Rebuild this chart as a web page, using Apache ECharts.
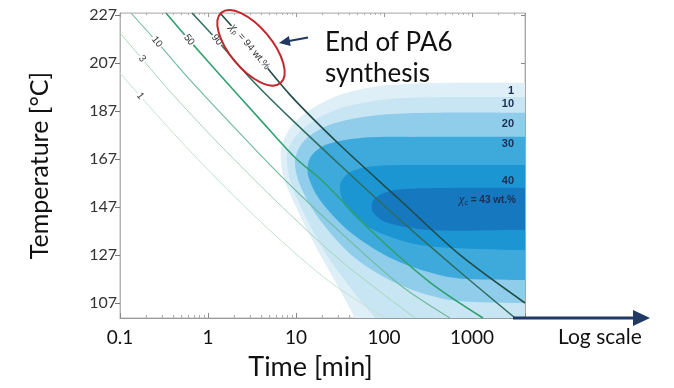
<!DOCTYPE html>
<html>
<head>
<meta charset="utf-8">
<script src="https://cdn.jsdelivr.net/npm/echarts@6/dist/echarts.min.js"></script>
<style>
  html, body { margin: 0; padding: 0; background: #fff; }
  #chart { width: 674px; height: 388px; }
</style>
</head>
<body>
<div id="chart"></div>
<script>
// Axis ticks
const timeTicks = [0.1, 1, 10, 100, 1000];
const tempTicks = [107, 127, 147, 167, 187, 207, 227];

// Polymerisation conversion isolines X_p (wt.%): time [min] vs temperature [°C]
const xp1Time = [0.1, 0.169, 0.422, 1.37, 5.77, 24.3, 103];
const xp1Temp = [202.8, 193.25, 177, 157.4, 135.3, 115.75, 100.75];
const xp3Time = [0.1, 0.178, 0.422, 1.37, 5.77, 31.6, 225];
const xp3Temp = [219.5, 208.7, 192.8, 172.8, 149.9, 124.9, 100.75];
const xp10Time = [0.133, 0.263, 0.624, 1.78, 6.58, 31.6, 152, 562];
const xp10Temp = [227.8, 215.75, 199.9, 182, 160.3, 136.6, 114.5, 100.75];
const xp50Time = [0.333, 0.608, 1.37, 3.9, 9.8, 20.5, 69.3, 333, 1334];
const xp50Temp = [227.8, 216.6, 202, 183.5, 167.5, 157.5, 137.5, 115.6, 100.75];
const xp90Time = [0.658, 1.26, 3.0, 8.55, 31.6, 152, 731, 3083];
const xp90Temp = [227.8, 216.6, 200.75, 184.1, 164.5, 141.6, 119.9, 100.75];
const xp94Time = [1.37, 3.0, 8.55, 31.6, 152, 731, 4000];
const xp94Temp = [227.8, 213.7, 193.7, 172.8, 149.9, 127, 107];

// Crystallinity regions X_c >= level (wt.%), outlines as [time, temperature]
const xc1 = [[6000, 198.7], [4500, 198.7], [562, 198.7], [90.1, 197.4], [31.6, 193.7], [14.4, 187.4], [8.55, 179.9],
  [6.76, 170.75], [7.11, 160.3], [9.75, 147.8], [16.4, 131.2], [31.6, 112.4], [46.8, 100.75], [55, 96], [4500, 96], [6000, 96]];
const xc10 = [[6000, 192.8], [4500, 192.8], [562, 192.8], [117, 192], [36.1, 188.7], [16.4, 183.25], [9.75, 176.2],
  [7.9, 168.7], [8.55, 158.25], [12.6, 143.7], [24.3, 124.9], [53.4, 108.25], [79, 100.75], [90, 96], [4500, 96], [6000, 96]];
const xc20 = [[6000, 186.2], [4500, 186.2], [333, 186.2], [69.3, 184.9], [24.3, 181.2], [12.6, 174.9], [9.75, 166.6],
  [11.1, 156.2], [18.7, 141.6], [46.8, 125.75], [152, 114.5], [562, 108.25], [3000, 107], [4500, 107], [6000, 107]];
const xc30 = [[6000, 176.2], [4500, 176.2], [256, 176.2], [53.4, 175.75], [21.4, 172.8], [14.4, 167.4], [13.7, 160.3],
  [18.7, 149.9], [41.1, 136.6], [133, 124.9], [562, 117.75], [3000, 116.6], [4500, 116.6], [6000, 116.6]];
const xc40 = [[6000, 164.5], [4500, 164.5], [333, 164.5], [79, 164.1], [41.1, 161.6], [31.6, 156.2], [36.1, 147.8],
  [69.3, 138.25], [256, 131.2], [3000, 129.1], [4500, 129.1], [6000, 129.1]];
const xc43 = [[6000, 154.9], [4500, 154.9], [562, 154.9], [133, 154.1], [79, 150.75], [73, 145.75], [103, 140.75],
  [333, 137.4], [3000, 137.4], [4500, 137.4], [6000, 137.4]];

// Level labels of the crystallinity bands
const xcLevels = ['1', '10', '20', '30', '40'];
const xcLevelTemp = [195.3, 189.9, 181.6, 173.25, 157.8];
const xcPeak = 43;
const xcPeakTemp = 149.9;

const chart = echarts.init(document.getElementById('chart'));

function region(points, color) {
  return {
    type: 'custom',
    coordinateSystem: 'cartesian2d',
    clip: true,
    silent: true,
    z: 1,
    data: points,
    encode: { x: 0, y: 1 },
    renderItem: function (params, api) {
      if (params.dataIndex !== 0) return null;
      return {
        type: 'polygon',
        shape: { points: points.map(p => api.coord(p)), smooth: 0.3 },
        style: { fill: color, stroke: null }
      };
    }
  };
}

function isoline(times, temps, color, width) {
  return {
    type: 'line',
    data: times.map((t, i) => [t, temps[i]]),
    smooth: 0.3,
    symbol: 'none',
    silent: true,
    clip: true,
    z: 3,
    lineStyle: { color: color, width: width }
  };
}

const tickFmt = v => (v < 1 ? String(+v.toFixed(1)) : String(Math.round(v)));

chart.setOption({
  animation: false,
  textStyle: { fontFamily: 'Lato' },
  grid: { left: 120, right: 149, top: 13, bottom: 70, show: true, borderColor: '#b8b8b8', borderWidth: 1, backgroundColor: '#fff' },
  xAxis: [{
    type: 'log', logBase: 10, min: 0.1, max: 4000,
    name: 'Time [min]', nameLocation: 'middle', nameGap: 36,
    nameTextStyle: { fontSize: 27, color: '#111', padding: [0, 24, 0, 0] },
    axisLine: { show: true, lineStyle: { color: '#9a9a9a' } },
    axisTick: { inside: true, length: 5, lineStyle: { color: '#888' } },
    minorTick: { show: true, splitNumber: 9, length: 3, lineStyle: { color: '#aaa' } },
    axisLabel: { fontSize: 19, color: '#111', margin: 10, showMaxLabel: false, formatter: tickFmt },
    splitLine: { show: false }, minorSplitLine: { show: false }
  }, {
    type: 'log', logBase: 10, min: 0.1, max: 4000, position: 'top',
    axisLine: { show: true, lineStyle: { color: '#c8c8c8' } },
    axisTick: { inside: true, length: 4, lineStyle: { color: '#999' } },
    minorTick: { show: true, splitNumber: 9, length: 2, lineStyle: { color: '#aaa' } },
    axisLabel: { show: false }, splitLine: { show: false }
  }],
  yAxis: [{
    type: 'value', min: 100.75, max: 227.8,
    name: 'Temperature [°C]', nameLocation: 'middle', nameGap: 68, nameRotate: 90,
    nameTextStyle: { fontSize: 25, color: '#111' },
    axisLine: { show: true, lineStyle: { color: '#b3b3b3' } },
    axisTick: { show: true, length: 5, customValues: tempTicks, lineStyle: { color: '#777' } },
    axisLabel: { customValues: tempTicks, fontSize: 16, color: '#333', margin: 3 },
    splitLine: { show: false }
  }, {
    type: 'value', min: 100.75, max: 227.8, position: 'right',
    axisLine: { show: true, lineStyle: { color: '#a8a8a8' } },
    axisTick: { show: true, inside: true, length: 4, customValues: tempTicks, lineStyle: { color: '#888' } },
    axisLabel: { show: false }, splitLine: { show: false }
  }],
  series: [
    region(xc1, '#deeff8'),
    region(xc10, '#c8e5f3'),
    region(xc20, '#8fcdea'),
    region(xc30, '#3eaadc'),
    region(xc40, '#1c96d2'),
    region(xc43, '#1678be'),
    isoline(xp1Time, xp1Temp, '#c2e2cf', 1),
    isoline(xp3Time, xp3Temp, '#a3d5b9', 1),
    isoline(xp10Time, xp10Temp, '#6fbb9b', 1.1),
    isoline(xp50Time, xp50Temp, '#2fa06f', 1.6),
    isoline(xp90Time, xp90Temp, '#2d6e60', 1.5),
    isoline(xp94Time, xp94Temp, '#1f4c48', 1.6)
  ]
});

// Annotations
const px = (t, T) => chart.convertToPixel({ gridIndex: 0 }, [t, T]);
const g = [];
const deg = Math.PI / 180;

// isoline labels, written along the curves
const isoLabelAt = [['1', 0.169, 193.25], ['3', 0.178, 208.7], ['10', 0.263, 215.75], ['50', 0.608, 216.6], ['90', 1.26, 216.6]];
isoLabelAt.forEach(([txt, t, T]) => {
  const p = px(t, T);
  g.push({
    type: 'text', x: p[0], y: p[1], rotation: -52 * deg, z: 50,
    style: { text: txt, fill: '#333', font: '10px "Liberation Sans"', align: 'center', verticalAlign: 'middle', backgroundColor: '#fff', padding: [0, 1] }
  });
});

// X_p = 94 wt.% label with red ellipse
const p94 = px(xp94Time[1], xp94Temp[1]);
g.push({
  type: 'text', x: p94[0], y: p94[1], rotation: -50 * deg, z: 50,
  style: {
    text: '{c|χ}{s|p}{t| = 94 wt.%}', align: 'center', verticalAlign: 'middle', backgroundColor: '#fff',
    rich: {
      c: { font: 'italic 12px "Liberation Serif"', fill: '#333' },
      s: { font: '7px "Liberation Sans"', fill: '#333', padding: [6, 0, 0, 0] },
      t: { font: '10px "Liberation Sans"', fill: '#333' }
    }
  }
});
g.push({
  type: 'ellipse', x: p94[0] + 1, y: p94[1] + 1, rotation: -50 * deg, z: 60,
  shape: { cx: 0, cy: 0, rx: 46, ry: 21 },
  style: { fill: null, stroke: '#c1272d', lineWidth: 2 }
});

// pointer from the caption to the ellipse
g.push({ type: 'line', z: 60, shape: { x1: 308, y1: 37.5, x2: 289, y2: 41 }, style: { stroke: '#1f3864', lineWidth: 2 } });
g.push({ type: 'polygon', z: 60, shape: { points: [[279, 43], [290.7, 45.9], [288.9, 36.1]] }, style: { fill: '#1f3864' } });
g.push({ type: 'text', x: 325, y: 43, z: 60, style: { text: 'End of PA6', font: '26px Lato', fill: '#111', verticalAlign: 'middle' } });
g.push({ type: 'text', x: 325, y: 74, z: 60, style: { text: 'synthesis', font: '26px Lato', fill: '#111', verticalAlign: 'middle' } });

// crystallinity level labels at the right border
const rightX = chart.convertToPixel({ gridIndex: 0 }, [4000, 150])[0] - 11;
xcLevels.forEach((lv, i) => {
  const y = px(4000, xcLevelTemp[i])[1];
  g.push({ type: 'text', x: rightX, y: y, z: 50, style: { text: lv, font: 'bold 11px "Liberation Sans"', fill: '#1b2f52', align: 'right', verticalAlign: 'middle' } });
});
const yPeak = px(4000, xcPeakTemp)[1];
g.push({
  type: 'text', x: rightX + 2, y: yPeak, z: 50,
  style: {
    text: '{c|χ}{s|c}{t| = ' + xcPeak + ' wt.%}', align: 'right', verticalAlign: 'middle',
    rich: {
      c: { font: 'italic 13px "Liberation Serif"', fill: '#1b2f52' },
      s: { font: '7px "Liberation Sans"', fill: '#1b2f52', padding: [6, 0, 0, 0] },
      t: { font: 'bold 10px "Liberation Sans"', fill: '#1b2f52' }
    }
  }
});

// log-scale arrow along the time axis
g.push({ type: 'line', z: 60, shape: { x1: 513, y1: 318, x2: 636, y2: 318 }, style: { stroke: '#1f3864', lineWidth: 3 } });
g.push({ type: 'polygon', z: 60, shape: { points: [[650, 318], [633, 310], [633, 326]] }, style: { fill: '#1f3864' } });
g.push({ type: 'text', x: 558, y: 337, z: 60, style: { text: 'Log scale', font: '21px Lato', fill: '#111', verticalAlign: 'middle' } });

chart.setOption({ graphic: g });
</script>
</body>
</html>
